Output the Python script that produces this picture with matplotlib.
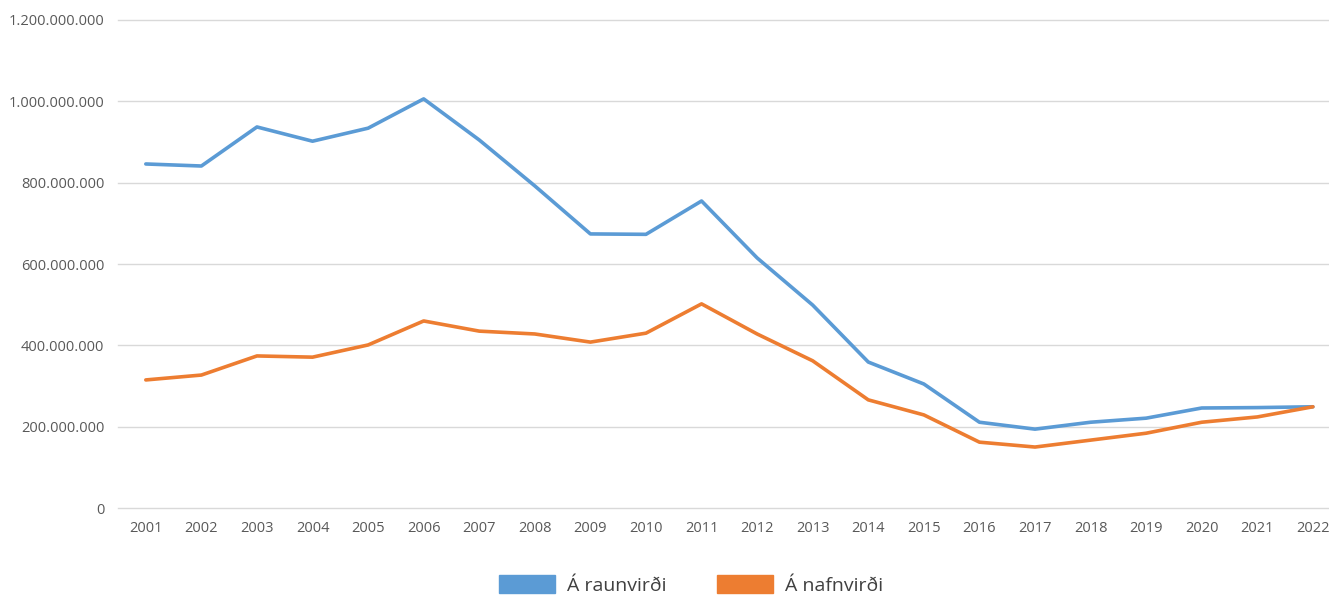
import matplotlib.pyplot as plt
import matplotlib.patches as mpatches
from matplotlib.ticker import FuncFormatter

ar = [str(a) for a in range(2001, 2023)]
raunvirdi = [846, 841, 937, 902, 934, 1006, 905, 792, 674, 673, 755, 615,
             499, 359, 305, 211, 194, 211, 221, 246, 247, 249]
nafnvirdi = [315, 327, 374, 371, 401, 460, 435, 428, 408, 430, 502, 428,
             362, 266, 229, 162, 150, 167, 184, 211, 224, 249]
raunvirdi = [v * 1e6 for v in raunvirdi]
nafnvirdi = [v * 1e6 for v in nafnvirdi]

blar = '#5B9BD5'
appelsinugulur = '#ED7D31'
grar = '#595959'

plt.rcParams['font.family'] = ['Open Sans', 'DejaVu Sans']

fig = plt.figure(figsize=(13.29, 5.97), dpi=100)
ax = fig.add_axes([0.0888, 0.149, 0.9112, 0.8175])

x = list(range(len(ar)))
ax.plot(x, raunvirdi, color=blar, linewidth=2.6, solid_capstyle='round')
ax.plot(x, nafnvirdi, color=appelsinugulur, linewidth=2.6, solid_capstyle='round')

ax.set_ylim(0, 1.2e9)
ax.set_yticks([i * 2e8 for i in range(7)])
ax.yaxis.set_major_formatter(FuncFormatter(lambda v, p: f"{int(v):,}".replace(",", ".")))
ax.set_xlim(-0.5, 21.29)
ax.set_xticks(x)
ax.set_xticklabels(ar)

ax.grid(axis='y', color='#D9D9D9', linewidth=1)
for gl in ax.get_ygridlines():
    gl.set_clip_on(False)
ax.set_axisbelow(True)
for s in ax.spines.values():
    s.set_visible(False)
ax.tick_params(length=0, labelsize=10.5, labelcolor=grar)
ax.tick_params(axis='x', pad=9)
ax.tick_params(axis='y', pad=10)

# legend
handles = [mpatches.Patch(color=blar, label='Á raunvirði'),
           mpatches.Patch(color=appelsinugulur, label='Á nafnvirði')]
fig.legend(handles=handles, loc='center', bbox_to_anchor=(0.52, 0.02), ncol=2,
           frameon=False, fontsize=14, handlelength=2.9, handleheight=1.0,
           columnspacing=2.6, handletextpad=0.6, labelcolor='#404040')

fig.savefig('out.png', dpi=100)
